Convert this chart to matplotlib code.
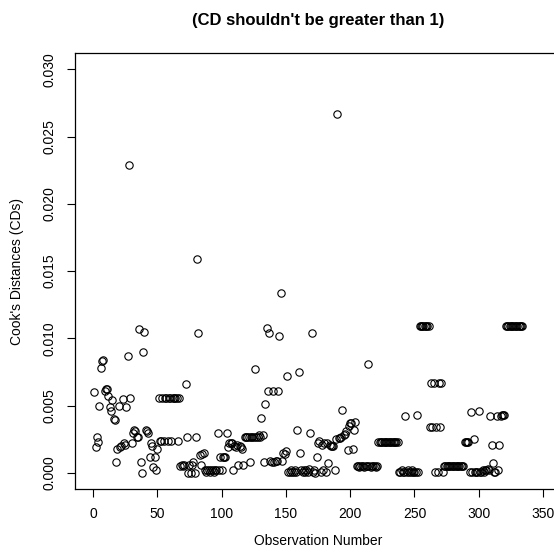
import numpy as np
import matplotlib
matplotlib.use("Agg")
import matplotlib.pyplot as plt

plt.rcParams['font.family'] = ['Liberation Sans', 'DejaVu Sans']

# Cook's distance for each observation, in observation order (1..n)
cooks_d = [
    0.0060, 0.0019, 0.0027, 0.0023, 0.0050, 0.0078, 0.0083, 0.0084, 0.0061, 0.0062,   # 1-10
    0.0062, 0.0057, 0.0049, 0.0046, 0.0054, 0.0040, 0.0039, 0.0008, 0.0018, 0.0050,   # 11-20
    0.0019, 0.0020, 0.0055, 0.0022, 0.0021, 0.0049, 0.0087, 0.0229, 0.0056, 0.0022,   # 21-30
    0.0030, 0.0032, 0.0031, 0.0027, 0.0027, 0.0107, 0.0008, 0.0000, 0.0090, 0.0105,   # 31-40
    0.0032, 0.0031, 0.0030, 0.0012, 0.0022, 0.0020, 0.0004, 0.0012, 0.0002, 0.0018,   # 41-50
    0.0056, 0.0024, 0.0024, 0.0056, 0.0024, 0.0056, 0.0056, 0.0024, 0.0056, 0.0056,   # 51-60
    0.0024, 0.0056, 0.0056, 0.0056, 0.0056, 0.0024, 0.0056, 0.0005, 0.0006, 0.0005,   # 61-70
    0.0006, 0.0066, 0.0027, 0.0000, 0.0006, 0.0000, 0.0006, 0.0008, 0.0000, 0.0027,   # 71-80
    0.0159, 0.0104, 0.0013, 0.0006, 0.0014, 0.0015, 0.0002, 0.0001, 0.0002, 0.0002,   # 81-90
    0.0001, 0.0002, 0.0002, 0.0001, 0.0002, 0.0002, 0.0030, 0.0002, 0.0012, 0.0002,   # 91-100
    0.0012, 0.0012, 0.0012, 0.0030, 0.0019, 0.0022, 0.0022, 0.0022, 0.0002, 0.0020,   # 101-110
    0.0019, 0.0021, 0.0006, 0.0020, 0.0019, 0.0018, 0.0006, 0.0027, 0.0027, 0.0027,   # 111-120
    0.0027, 0.0008, 0.0027, 0.0027, 0.0027, 0.0077, 0.0027, 0.0027, 0.0028, 0.0027,   # 121-130
    0.0041, 0.0028, 0.0008, 0.0051, 0.0108, 0.0061, 0.0104, 0.0009, 0.0008, 0.0061,   # 131-140
    0.0008, 0.0009, 0.0009, 0.0061, 0.0102, 0.0134, 0.0009, 0.0015, 0.0014, 0.0016,   # 141-150
    0.0072, 0.0001, 0.0001, 0.0002, 0.0001, 0.0001, 0.0002, 0.0001, 0.0032, 0.0075,   # 151-160
    0.0015, 0.0002, 0.0001, 0.0002, 0.0001, 0.0002, 0.0001, 0.0003, 0.0030, 0.0104,   # 161-170
    0.0001, 0.0002, 0.0000, 0.0012, 0.0022, 0.0024, 0.0001, 0.0021, 0.0002, 0.0022,   # 171-180
    0.0001, 0.0022, 0.0007, 0.0021, 0.0020, 0.0020, 0.0020, 0.0002, 0.0025, 0.0267,   # 181-190
    0.0026, 0.0026, 0.0027, 0.0047, 0.0028, 0.0029, 0.0031, 0.0017, 0.0035, 0.0037,   # 191-200
    0.0037, 0.0018, 0.0032, 0.0038, 0.0005, 0.0005, 0.0004, 0.0005, 0.0005, 0.0005,   # 201-210
    0.0004, 0.0005, 0.0005, 0.0081, 0.0005, 0.0004, 0.0005, 0.0005, 0.0005, 0.0004,   # 211-220
    0.0005, 0.0023, 0.0023, 0.0023, 0.0023, 0.0023, 0.0023, 0.0023, 0.0023, 0.0023,   # 221-230
    0.0023, 0.0023, 0.0023, 0.0023, 0.0023, 0.0023, 0.0023, 0.0001, 0.0001, 0.0002,   # 231-240
    0.0001, 0.0001, 0.0042, 0.0001, 0.0002, 0.0001, 0.0001, 0.0002, 0.0001, 0.0001,   # 241-250
    0.0001, 0.0043, 0.0001, 0.0109, 0.0109, 0.0109, 0.0109, 0.0109, 0.0109, 0.0109,   # 251-260
    0.0109, 0.0034, 0.0067, 0.0034, 0.0067, 0.0001, 0.0034, 0.0001, 0.0067, 0.0034,   # 261-270
    0.0067, 0.0001, 0.0005, 0.0005, 0.0005, 0.0005, 0.0005, 0.0005, 0.0005, 0.0005,   # 271-280
    0.0005, 0.0005, 0.0005, 0.0005, 0.0005, 0.0005, 0.0005, 0.0005, 0.0023, 0.0023,   # 281-290
    0.0023, 0.0023, 0.0001, 0.0045, 0.0001, 0.0025, 0.0001, 0.0001, 0.0001, 0.0046,   # 291-300
    0.0001, 0.0001, 0.0002, 0.0001, 0.0002, 0.0002, 0.0003, 0.0002, 0.0042, 0.0021,   # 301-310
    0.0007, 0.0001, 0.0001, 0.0042, 0.0002, 0.0021, 0.0042, 0.0043, 0.0043, 0.0043,   # 311-320
    0.0109, 0.0109, 0.0109, 0.0109, 0.0109, 0.0109, 0.0109, 0.0109, 0.0109, 0.0109,   # 321-330
    0.0109, 0.0109, 0.0109, 0.0109,                                                   # 331-334
]
obs_num = np.arange(1, len(cooks_d) + 1)

x_ticks = [0, 50, 100, 150, 200, 250, 300, 350]
y_ticks = [0.000, 0.005, 0.010, 0.015, 0.020, 0.025, 0.030]

fig = plt.figure(figsize=(5.54, 5.56), dpi=100)
# plot region runs off the right edge of the canvas
ax = fig.add_axes([0.1354, 0.1205, 0.8773, 0.7836])

ax.plot(obs_num, cooks_d, linestyle='none', marker='o', markersize=5.3,
        markerfacecolor='none', markeredgecolor='black', markeredgewidth=0.8)

ax.set_xlim(-14, 364)
ax.set_ylim(-0.0012, 0.0312)
ax.set_xticks(x_ticks)
ax.set_xticklabels([str(t) for t in x_ticks])
ax.set_yticks(y_ticks)
ax.set_yticklabels([f"{t:.3f}" for t in y_ticks], rotation=90, va='center')

ax.tick_params(direction='out', length=6, width=0.8, labelsize=10, pad=7)
for s in ax.spines.values():
    s.set_linewidth(0.9)
ax.spines['right'].set_visible(False)  # falls outside the canvas anyway

fig.text(318 / 554, 1 - 20 / 556, "(CD shouldn't be greater than 1)",
         ha='center', va='center', fontsize=12, fontweight='bold')
fig.text(318 / 554, 1 - 541 / 556, "Observation Number",
         ha='center', va='center', fontsize=10)
fig.text(17 / 554, 1 - 271 / 556, "Cook's Distances (CDs)",
         ha='center', va='center', fontsize=10, rotation=90)

fig.savefig("out.png", dpi=100)
